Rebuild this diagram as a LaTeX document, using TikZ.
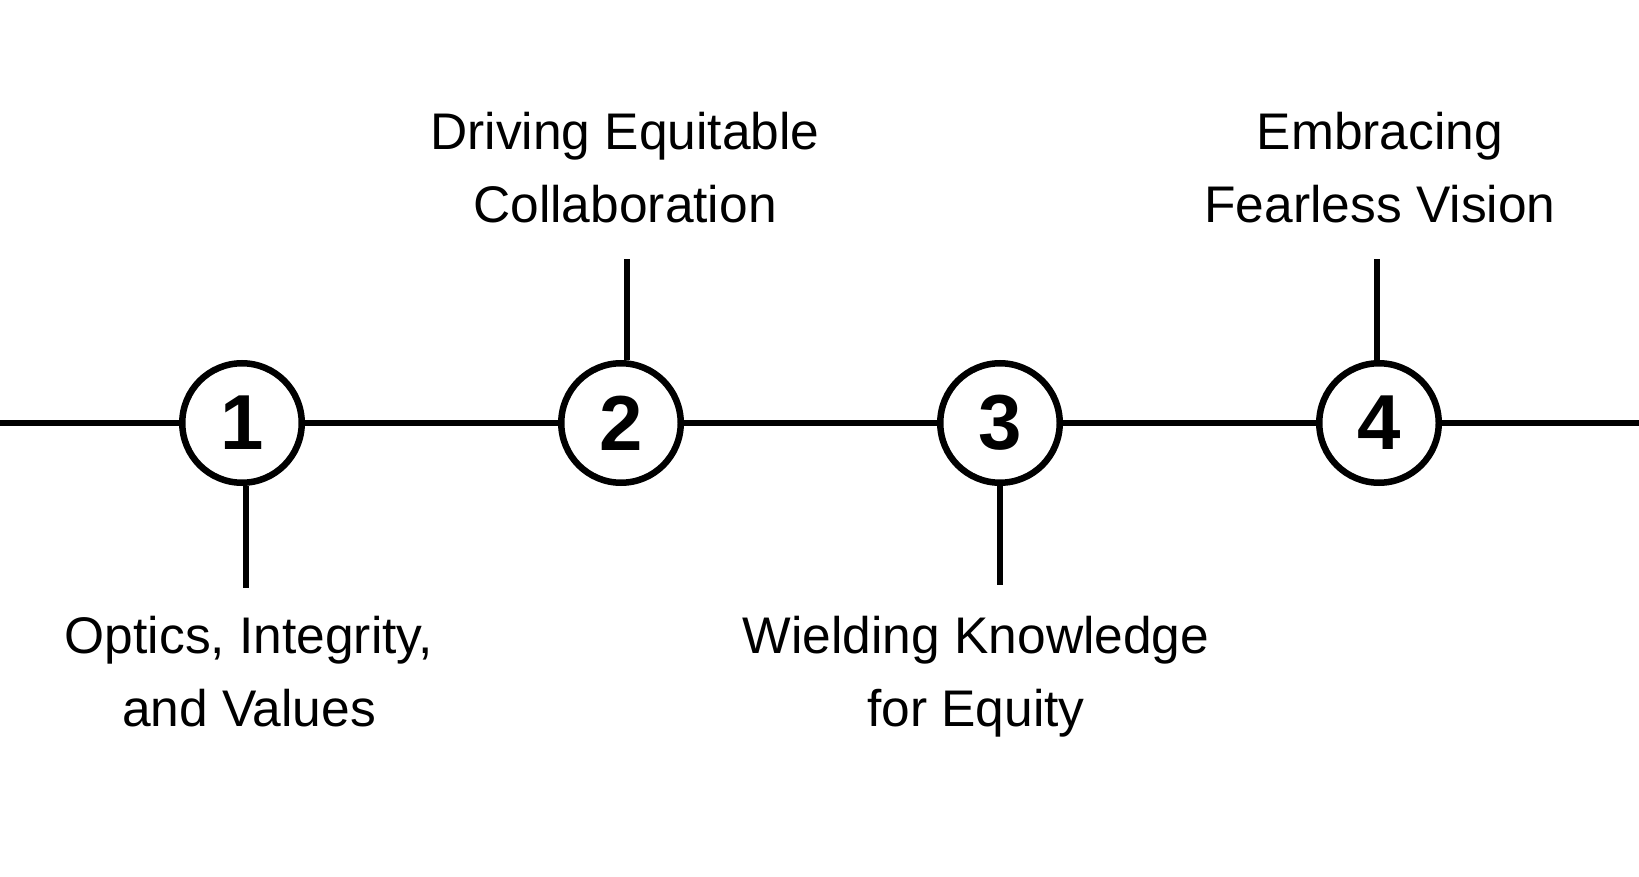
\documentclass[tikz,border=0pt]{standalone}
\usepackage{fontspec}
\setmainfont{Liberation Sans}
\begin{document}
\begin{tikzpicture}[x=1pt,y=-1pt,
  stepcircle/.style={circle,draw=black,line width=6.5pt,fill=white,minimum size=119.5pt,inner sep=0pt,
    font=\fontsize{78}{78}\selectfont\bfseries},
  label/.style={align=center,inner sep=0pt,font=\fontsize{51.5}{73}\selectfont},
  link/.style={line width=6.5pt,draw=black},
  stem/.style={line width=6pt,draw=black}]
\useasboundingbox (0,0) rectangle (1639,877);
\fill[white] (0,0) rectangle (1639,877);
\coordinate (left) at (0,423);
\coordinate (right) at (1639,423);
\node[stepcircle] (c1) at (242,423) {1};
\node[stepcircle] (c2) at (621,423) {2};
\node[stepcircle] (c3) at (1000,423) {3};
\node[stepcircle] (c4) at (1379,423) {4};
\draw[link] (left) -- (c1.west);
\draw[link] (c1.east) -- (c2.west);
\draw[link] (c2.east) -- (c3.west);
\draw[link] (c3.east) -- (c4.west);
\draw[link] (c4.east) -- (right);
\node[label,anchor=base] (t1) at (249,726) {Optics, Integrity,\\and Values};
\node[label,anchor=base] (t2) at (625,223) {Driving Equitable\\Collaboration};
\node[label,anchor=base] (t3) at (976,726) {Wielding Knowledge\\for Equity};
\node[label,anchor=base] (t4) at (1380,223) {Embracing\\Fearless Vision};
\coordinate (e1) at (246,588);
\coordinate (e2) at (627,259);
\coordinate (e3) at (1000,585);
\coordinate (e4) at (1377,259);
\draw[stem] (c1.south -| e1) -- (e1);
\draw[stem] (c2.north -| e2) -- (e2);
\draw[stem] (c3.south) -- (e3);
\draw[stem] (c4.north -| e4) -- (e4);
\end{tikzpicture}
\end{document}
